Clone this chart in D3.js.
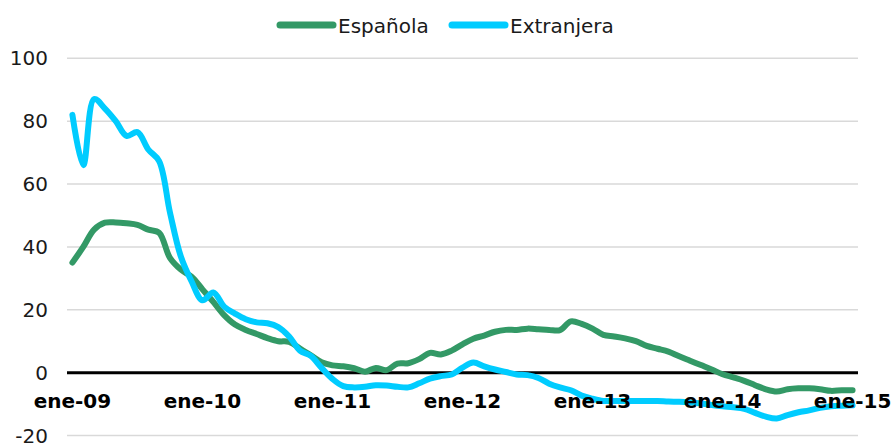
<!DOCTYPE html>
<html>
<head>
<meta charset="utf-8">
<script src="https://cdn.jsdelivr.net/npm/d3@7"></script>
<style>
  body { margin: 0; background: #fff; }
  text { font-family: "DejaVu Sans", Verdana, sans-serif; }
</style>
</head>
<body>
<script>
// Data: monthly, ene-09 .. ene-15
var years = ['09','10','11','12','13','14','15'];
var months = d3.range(73).map(function(i){ return i; });
var yTicks = [-20, 0, 20, 40, 60, 80, 100];

var espanola = [35, 40, 45.5, 47.7, 47.8, 47.5, 47, 45.5, 44.5, 36.5, 32.8, 30.5,
  26.5, 22.5, 18.3, 15.3, 13.6, 12.3, 11, 10, 9.8, 7.7, 5.5, 3.3,
  2.3, 2, 1.4, 0.3, 1.5, 0.8, 2.9, 3, 4.3, 6.3, 5.8, 7,
  9, 10.8, 11.8, 13, 13.6, 13.6, 14, 13.8, 13.6, 13.5, 16.3, 15.5,
  14, 12, 11.5, 10.9, 10, 8.5, 7.6, 6.7, 5.2, 3.8, 2.4, 1,
  -0.5, -1.5, -2.6, -4, -5.3, -6, -5.3, -5, -5, -5.3, -5.8, -5.6,
  -5.6];
var extranjera = [82, 66, 87, 84, 80, 75.3, 76.5, 71, 67.3, 51, 37, 29,
  23, 25.5, 21, 18.8, 17, 16, 15.7, 14.5, 11.5, 7, 5.3, 1.5,
  -2, -4.3, -4.7, -4.5, -4, -4.1, -4.5, -4.7, -3.4, -1.9, -1.1, -0.6,
  1.6, 3.2, 2, 1, 0.2, -0.6, -0.8, -1.7, -3.5, -4.7, -5.6, -7.3,
  -8.3, -9, -9, -9, -9, -9, -9, -9.2, -9.3, -9.5, -9.8, -10.3,
  -10.7, -11, -11.5, -12.8, -14, -14.6, -13.5, -12.6, -12, -11.2, -10.7, -10.5,
  -10.4];

var width = 894, height = 443;
var left = 67, right = 858;

var svg = d3.select('body').append('svg')
  .attr('width', width)
  .attr('height', height);

var x = d3.scaleBand().domain(months).range([left, right]);
var xc = function(i){ return x(i) + x.bandwidth() / 2; };
var y = d3.scaleLinear().domain([-20, 100]).range([435.5, 58.3]);

// gridlines
svg.append('g').selectAll('line')
  .data(yTicks.filter(function(d){ return d !== 0; }))
  .enter().append('line')
  .attr('x1', left).attr('x2', right)
  .attr('y1', function(d){ return y(d); })
  .attr('y2', function(d){ return y(d); })
  .attr('stroke', '#d9d9d9')
  .attr('stroke-width', 1.5);

// y labels
svg.append('g').selectAll('text')
  .data(yTicks)
  .enter().append('text')
  .attr('x', 48)
  .attr('y', function(d){ return y(d) + 7; })
  .attr('text-anchor', 'end')
  .attr('font-size', 20)
  .attr('fill', '#1a1a1a')
  .text(function(d){ return d; });

// zero line
svg.append('line')
  .attr('x1', left).attr('x2', right)
  .attr('y1', y(0)).attr('y2', y(0))
  .attr('stroke', '#000')
  .attr('stroke-width', 3);

var line = d3.line()
  .x(function(d, i){ return xc(i); })
  .y(function(d){ return y(d); })
  .curve(d3.curveCatmullRom.alpha(0.5));

svg.append('path')
  .datum(espanola)
  .attr('d', line)
  .attr('fill', 'none')
  .attr('stroke', '#339966')
  .attr('stroke-width', 6)
  .attr('stroke-linejoin', 'round')
  .attr('stroke-linecap', 'round');

svg.append('path')
  .datum(extranjera)
  .attr('d', line)
  .attr('fill', 'none')
  .attr('stroke', '#00ccff')
  .attr('stroke-width', 6)
  .attr('stroke-linejoin', 'round')
  .attr('stroke-linecap', 'round');

// x labels (every January)
svg.append('g').selectAll('text')
  .data(years)
  .enter().append('text')
  .attr('x', function(d, i){ return xc(i * 12); })
  .attr('y', y(0) + 35.5)
  .attr('text-anchor', 'middle')
  .attr('font-size', 20)
  .attr('font-weight', 'bold')
  .attr('fill', '#000')
  .text(function(d){ return 'ene-' + d; });

// legend
var legend = [
  {name: 'Española', color: '#339966', x: 280},
  {name: 'Extranjera', color: '#00ccff', x: 452}
];
var lg = svg.append('g').selectAll('g')
  .data(legend)
  .enter().append('g');
lg.append('line')
  .attr('x1', function(d){ return d.x; })
  .attr('x2', function(d){ return d.x + 53; })
  .attr('y1', 25).attr('y2', 25)
  .attr('stroke', function(d){ return d.color; })
  .attr('stroke-width', 7)
  .attr('stroke-linecap', 'round');
lg.append('text')
  .attr('x', function(d){ return d.x + 58; })
  .attr('y', 33)
  .attr('font-size', 20)
  .attr('fill', '#1a1a1a')
  .text(function(d){ return d.name; });
</script>
</body>
</html>
